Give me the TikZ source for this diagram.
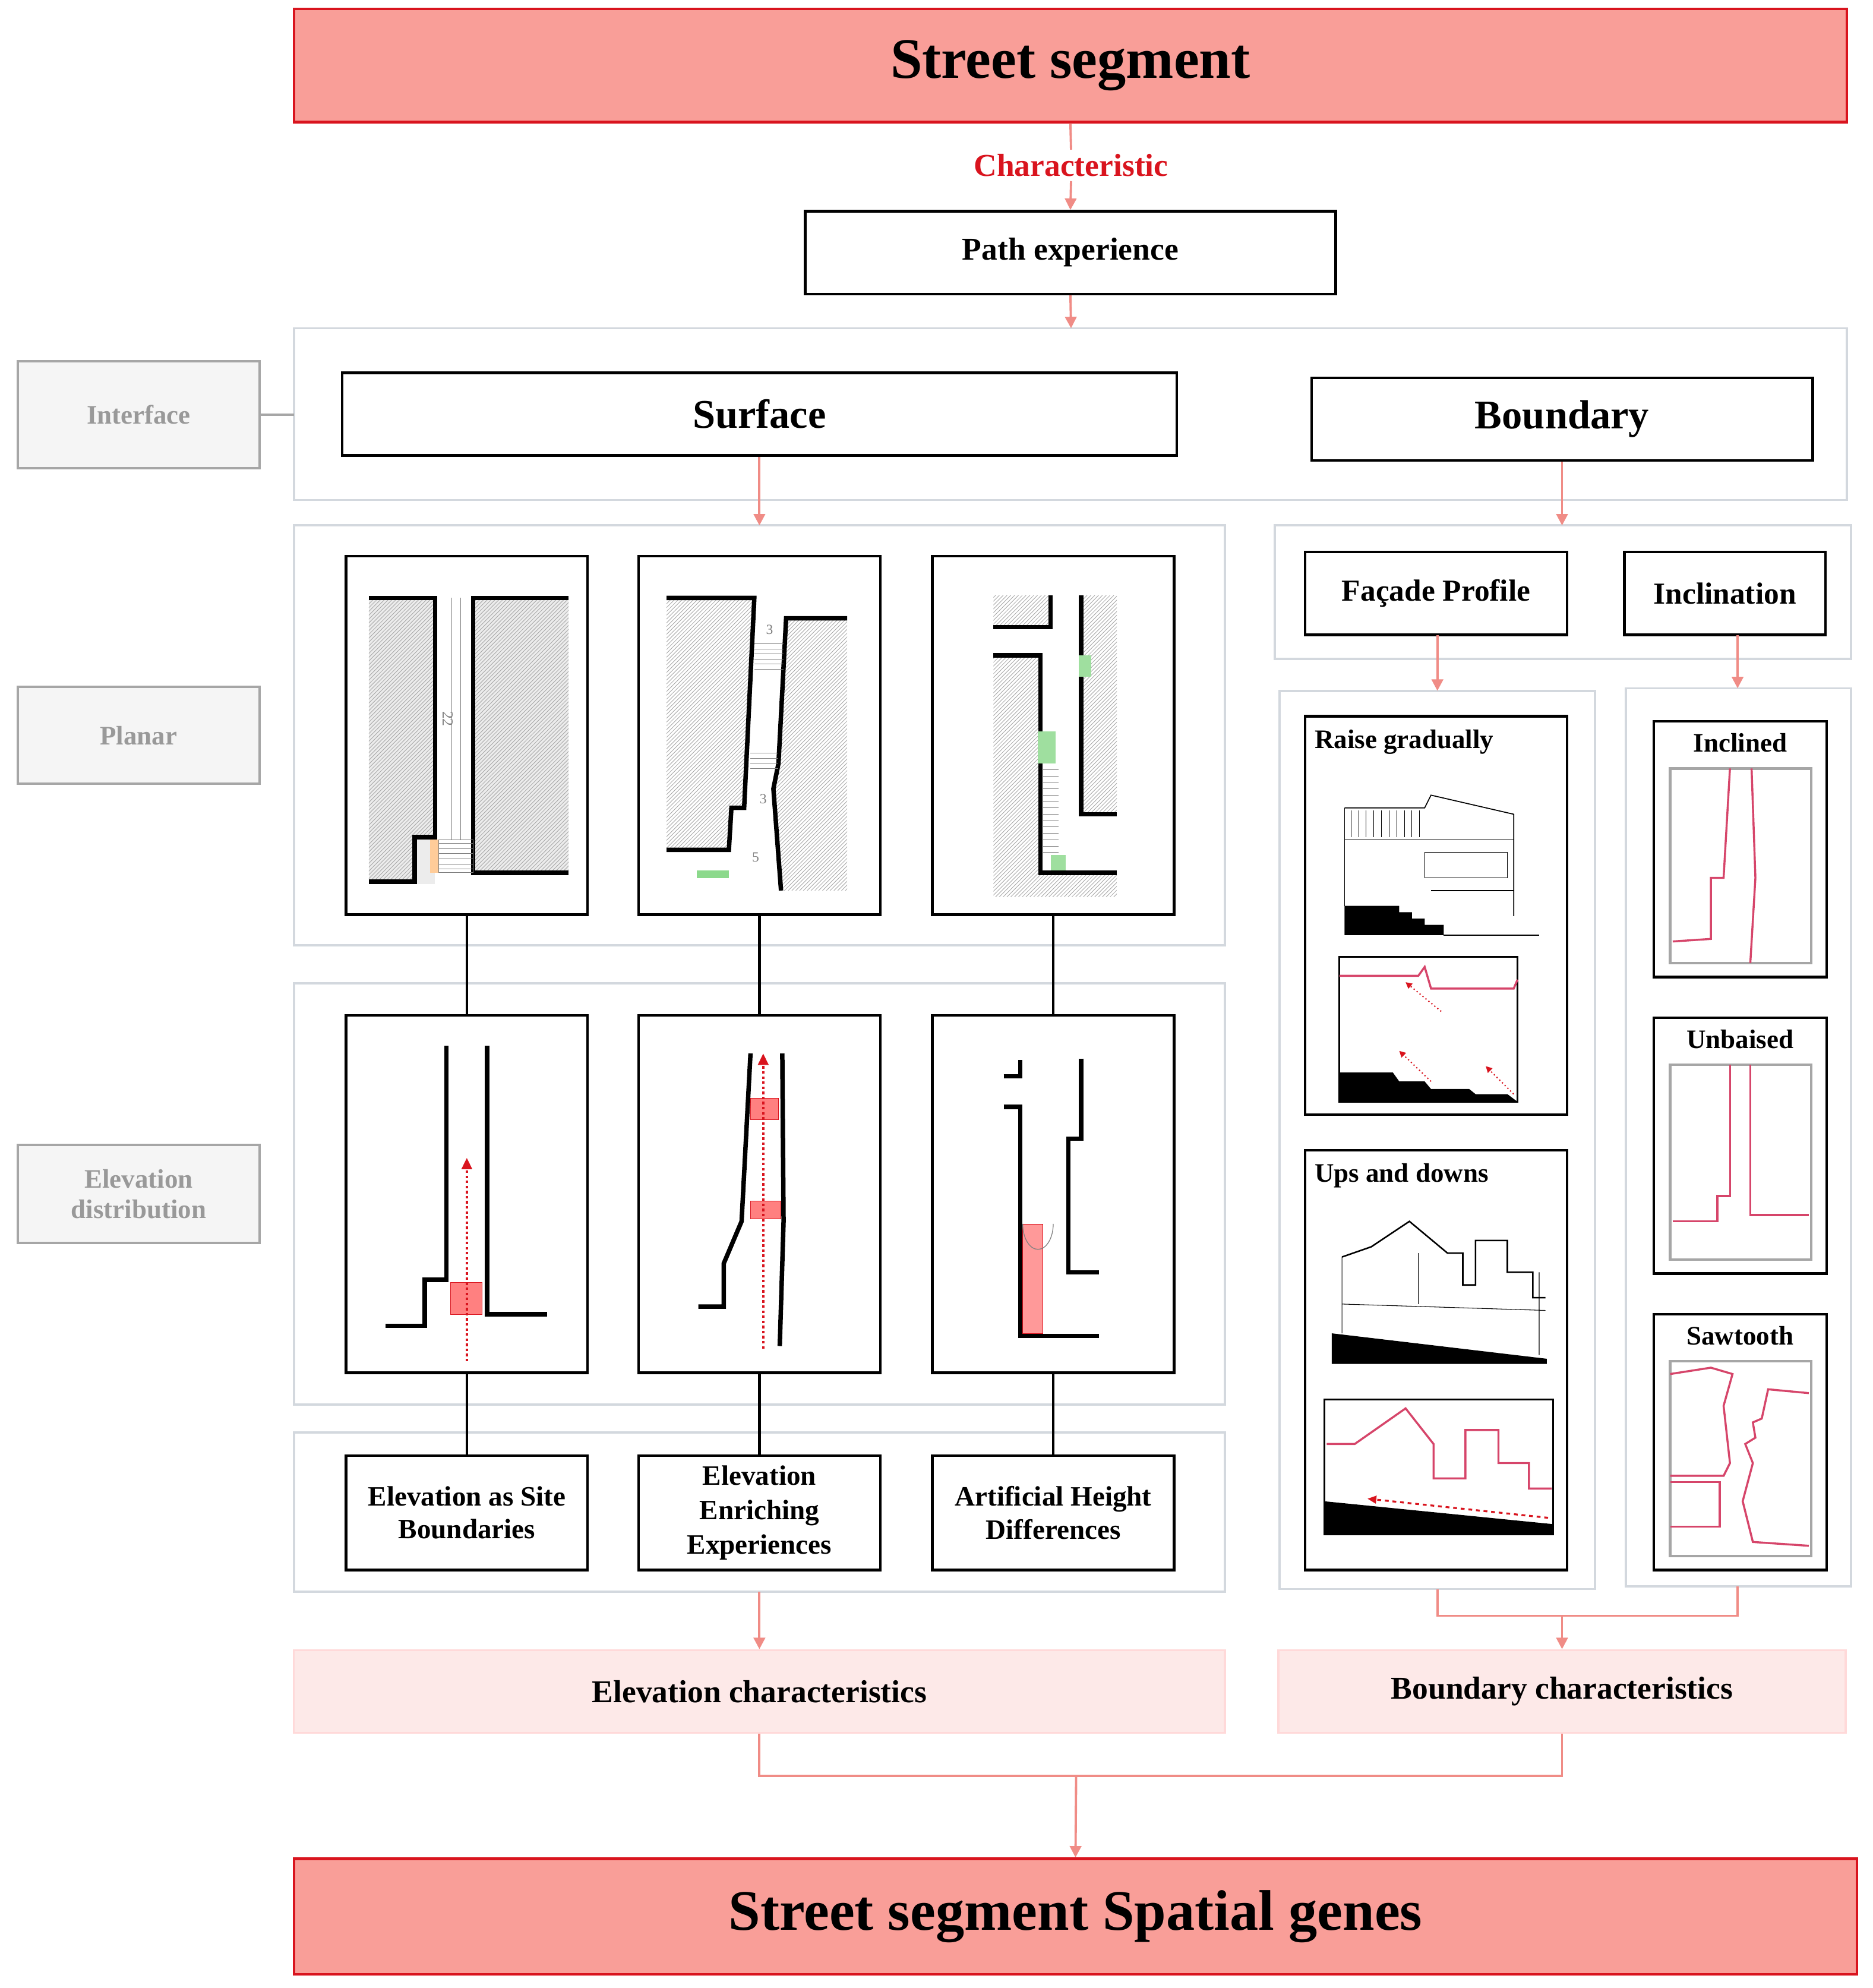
\documentclass[tikz,border=0pt]{standalone}
\usepackage{fontspec}
\setmainfont{Liberation Serif}
\usetikzlibrary{arrows.meta,patterns}
\definecolor{salmon}{HTML}{F99E98}
\definecolor{redb}{HTML}{D9141E}
\definecolor{arr}{HTML}{F08C86}
\definecolor{grp}{HTML}{D3D8DE}
\definecolor{pinkf}{HTML}{FDE9E8}
\definecolor{pinkl}{HTML}{D6456A}
\begin{document}
\begin{tikzpicture}[x=1pt,y=-1pt,
 big/.style={draw=redb,line width=2pt,fill=salmon,font=\bfseries\fontsize{45}{48}\selectfont},
 box/.style={draw=black,line width=2pt,fill=white,font=\bfseries\fontsize{25}{28}\selectfont},
 grpb/.style={draw=grp,line width=1.8pt},
 lab/.style={draw=gray!70,line width=1.8pt,fill=gray!8,text=gray!80,font=\bfseries\fontsize{21}{24}\selectfont,align=center},
 pan/.style={draw=black,line width=2pt,fill=white},
 ar/.style={draw=arr,line width=1.8pt,-{Triangle[length=9pt,width=9pt]}},
 ln/.style={draw=arr,line width=1.8pt},
 wl/.style={line width=3.5pt,line join=miter},
 hat/.style={pattern=north east lines,pattern color=gray!70},
 pk/.style={draw=pinkl,line width=1.6pt},
 pbox/.style={draw=black,line width=2pt,fill=white},
 ibox/.style={draw=gray!70,line width=2pt},
 ch/.style={draw=pink!60,line width=1.5pt,fill=pinkf,font=\bfseries\fontsize{25}{28}\selectfont},
 ptxt/.style={font=\bfseries\fontsize{21}{24}\selectfont},
 ltxt/.style={font=\bfseries\fontsize{22}{26}\selectfont}]
\useasboundingbox (0,0) rectangle (1472,1562.6);
% top
\node[big,minimum width=1221pt,minimum height=89pt] (top) at (841.5,51.5) {Street segment};
\node[text=redb,font=\bfseries\fontsize{25}{28}\selectfont] (char) at (842,130) {Characteristic};
\node[box,minimum width=417pt,minimum height=65pt] (path) at (841.5,198.5) {Path experience};
\draw[ln] (top.south) -- (char.north);
\draw[ar] (char.south) -- (path.north);
% interface group
\draw[grpb] (231,258) rectangle (1452,393);
\coordinate (ifT) at (842,258);
\draw[ar] (path.south) -- (ifT);
\node[box,minimum width=656pt,minimum height=65pt,font=\bfseries\fontsize{32}{36}\selectfont] (surf) at (597,325.5) {Surface};
\node[box,minimum width=394pt,minimum height=65pt,font=\bfseries\fontsize{32}{36}\selectfont] (bound) at (1228,329.5) {Boundary};
\node[lab,minimum width=190pt,minimum height=84pt] (ilab) at (109,326) {Interface};
\node[lab,minimum width=190pt,minimum height=76pt] (plab) at (109,578) {Planar};
\node[lab,minimum width=190pt,minimum height=77pt] (elab) at (109,938.5) {Elevation\\distribution};
\coordinate (ifL) at (231,326);
\draw[draw=gray!70,line width=1.8pt] (ilab.east) -- (ifL);
% groups
\draw[grpb] (231,413) rectangle (963,743);
\draw[grpb] (231,773) rectangle (963,1104);
\draw[grpb] (231,1126) rectangle (963,1251);
\draw[grpb] (1002,413) rectangle (1455,518);
\draw[grpb] (1006,543) rectangle (1254,1249);
\draw[grpb] (1278,541) rectangle (1455,1247);
\coordinate (pgT) at (597,413); \coordinate (fgT) at (1228,413);
\draw[ar] (surf.south) -- (pgT);
\draw[ar] (bound.south) -- (fgT);
% panels
\foreach \n/\x in {a/367,b/597,c/828}{
 \node[pan,minimum width=190pt,minimum height=282pt] (p\n) at (\x,578) {};
 \node[pan,minimum width=190pt,minimum height=281pt] (e\n) at (\x,938.5) {};
 \draw[line width=2pt] (p\n.south) -- (e\n.north);
}
\node[box,minimum width=190pt,minimum height=90pt,align=center,ltxt] (la) at (367,1189) {Elevation as Site\\Boundaries};
\node[box,minimum width=190pt,minimum height=90pt,align=center,ltxt,font=\bfseries\fontsize{22}{27}\selectfont] (lb) at (597,1189) {Elevation\\Enriching\\Experiences};
\node[box,minimum width=190pt,minimum height=90pt,align=center,ltxt] (lc) at (828,1189) {Artificial Height\\Differences};
\draw[line width=2pt] (ea.south) -- (la.north);
\draw[line width=2pt] (eb.south) -- (lb.north);
\draw[line width=2pt] (ec.south) -- (lc.north);
% planar drawings
\fill[gray!15] (290,470) rectangle (342,695); \fill[hat] (290,470) -- (342,470) -- (342,658) -- (326,658) -- (326,693) -- (290,693) -- cycle;
\fill[gray!15] (372,470) rectangle (447,686); \fill[hat] (372,470) rectangle (447,686);
\draw[wl] (290,470) -- (342,470) -- (342,658) -- (326,658) -- (326,693) -- (290,693);
\draw[wl] (447,470) -- (372,470) -- (372,686) -- (447,686);
\draw[gray,line width=0.6pt] (355,470) -- (355,660) (362,470)--(362,660);
\fill[orange!40] (338,660) rectangle (345,686);
\draw[gray,line width=0.5pt] (345,660) rectangle (372,686);
\foreach \y in {663,667,...,684} \draw[gray,line width=0.4pt] (345,\y)--(372,\y);
\node[font=\fontsize{12}{12}\selectfont,rotate=-90,gray] at (352,565) {22};
% panel b
\fill[gray!15,hat] (524,470) -- (593,470) -- (585,635) -- (575,635) -- (573,668) -- (524,668) -- cycle;
\draw[wl] (524,470) -- (593,470) -- (585,635) -- (575,635) -- (573,668) -- (524,668);
\fill[gray!15,hat] (618,486) -- (666,486) -- (666,700) -- (614,700) -- (608,620) -- (612,600) -- cycle;
\draw[wl] (666,486) -- (618,486) -- (612,600) -- (608,620) -- (614,700);
\foreach \y in {506,510,...,526} \draw[gray,line width=0.4pt] (593,\y)--(616,\y);
\foreach \y in {592,596,...,606} \draw[gray,line width=0.4pt] (590,\y)--(612,\y);
\fill[green!50!gray!60] (548,684) rectangle (573,690);
\node[font=\fontsize{11}{11}\selectfont,gray] at (605,495) {3};
\node[font=\fontsize{11}{11}\selectfont,gray] at (600,628) {3};
\node[font=\fontsize{11}{11}\selectfont,gray] at (594,674) {5};
% panel c
\fill[gray!15,hat] (781,468) -- (826,468) -- (826,493) -- (781,493) -- cycle;
\draw[wl] (781,493) -- (826,493) -- (826,468);
\fill[gray!15,hat] (781,515) -- (818,515) -- (818,686) -- (878,686) -- (878,705) -- (781,705) -- cycle;
\draw[wl] (781,515) -- (818,515) -- (818,686) -- (878,686);
\fill[gray!15,hat] (850,468) -- (878,468) -- (878,640) -- (850,640) -- cycle;
\draw[wl] (850,468) -- (850,640) -- (878,640);
\fill[green!50!gray!50] (816,575) rectangle (830,600);
\fill[green!50!gray!50] (848,515) rectangle (858,532);
\fill[green!50!gray!50] (826,672) rectangle (838,684);
\foreach \y in {605,610,...,670} \draw[gray,line width=0.4pt] (820,\y)--(832,\y);
% elevation drawings
\draw[wl] (351,822) -- (351,1006) -- (334,1006) -- (334,1042) -- (303,1042);
\draw[wl] (383,822) -- (383,1033) -- (430,1033);
\fill[red!50,draw=redb] (354,1008) rectangle (379,1033);
\draw[redb,line width=2pt,dotted,-{Triangle[length=9pt,width=8pt]}] (367,1070) -- (367,910);
\draw[wl] (590,828) -- (583,960) -- (569,993) -- (569,1027) -- (549,1027);
\draw[wl] (615,828) -- (616,960) -- (613,1058);
\fill[red!50,draw=redb] (590,863) rectangle (612,880);
\fill[red!50,draw=redb] (590,944) rectangle (614,958);
\draw[redb,line width=2pt,dotted,-{Triangle[length=9pt,width=8pt]}] (600,1060) -- (600,828);
\draw[wl] (789,846) -- (802,846) -- (802,833);
\draw[wl] (789,870) -- (802,870) -- (802,1050) -- (864,1050);
\draw[wl] (850,832) -- (850,895) -- (840,895) -- (840,1000) -- (864,1000);
\fill[red!40,draw=redb] (804,962) rectangle (820,1048);
\draw[gray,line width=0.6pt] (804,962) arc (180:0:12 and 20);
% facade
\node[pbox,minimum width=206pt,minimum height=65pt,font=\bfseries\fontsize{24}{27}\selectfont] (fac) at (1129,466.5) {Façade Profile};
\node[pbox,minimum width=158pt,minimum height=65pt,font=\bfseries\fontsize{24}{27}\selectfont] (inc) at (1356,466.5) {Inclination};
\coordinate (fg2) at (1130,543); \coordinate (ig2) at (1366,541);
\draw[ar] (1130,499) -- (fg2);
\draw[ar] (1366,499) -- (ig2);
\node[pbox,minimum width=206pt,minimum height=313pt] (rg) at (1129,719.5) {};
\node[ptxt,anchor=north west] at (1030,570) {Raise gradually};
\node[pbox,minimum width=206pt,minimum height=330pt] (ud) at (1129,1069) {};
\node[ptxt,anchor=north west] at (1030,911) {Ups and downs};
% raise gradually drawing
\draw[line width=0.8pt] (1057,635) -- (1120,635) -- (1125,625) -- (1190,640) -- (1190,720);
\draw[line width=0.6pt] (1057,660) -- (1190,660) (1120,670) rectangle (1185,690) (1125,700) -- (1190,700) (1057,635) -- (1057,712);
\foreach \x in {1062,1068,...,1116} \draw[line width=0.4pt] (\x,637)--(\x,658);
\fill (1057,712) -- (1100,712) -- (1100,717) -- (1110,717) -- (1110,722) -- (1120,722) -- (1120,727) -- (1135,727) -- (1135,735) -- (1057,735) -- cycle;
\draw[line width=0.6pt] (1135,735) -- (1210,735);
\draw[line width=1.5pt] (1053,752) rectangle (1193,866);
\draw[pk] (1053,767) -- (1115,767) -- (1120,760) -- (1125,777) -- (1190,777) -- (1193,770);
\fill (1053,843) -- (1095,843) -- (1100,850) -- (1120,850) -- (1125,856) -- (1155,856) -- (1160,860) -- (1185,860) -- (1193,866) -- (1053,866) -- cycle;
\draw[redb,line width=1pt,dotted,-{Triangle[length=5pt,width=5pt]}] (1133,795) -- (1105,772);
\draw[redb,line width=1pt,dotted,-{Triangle[length=5pt,width=5pt]}] (1125,850) -- (1100,826);
\draw[redb,line width=1pt,dotted,-{Triangle[length=5pt,width=5pt]}] (1190,860) -- (1168,838);
% ups and downs drawing
\draw[line width=1.2pt] (1055,988) -- (1078,980) -- (1108,960) -- (1138,985) -- (1150,985) -- (1150,1010) -- (1160,1010) -- (1160,975) -- (1185,975) -- (1185,1000) -- (1205,1000) -- (1205,1020) -- (1215,1020);
\draw[line width=0.5pt] (1055,1025) -- (1215,1030) (1115,985) -- (1115,1025) (1055,988) -- (1055,1048) (1210,1000)--(1210,1065);
\fill (1047,1048) -- (1216,1068) -- (1216,1072) -- (1047,1072) -- cycle;
\draw[line width=1.5pt] (1041,1100) rectangle (1221,1206);
\fill (1041,1180) -- (1221,1198) -- (1221,1206) -- (1041,1206) -- cycle;
\draw[pk] (1043,1135) -- (1065,1135) -- (1105,1107) -- (1127,1135) -- (1127,1162) -- (1152,1162) -- (1152,1124) -- (1178,1124) -- (1178,1150) -- (1202,1150) -- (1202,1170) -- (1220,1170);
\draw[redb,line width=1.5pt,dashed,-{Triangle[length=7pt,width=6pt]}] (1217,1193) -- (1075,1178);
% inclination
\foreach \n/\y/\t in {i1/567/Inclined,i2/800/Unbaised,i3/1033/Sawtooth}{
 \draw[pbox] (1300,\y) rectangle (1436,\y+201);
 \node[ptxt,anchor=north] at (1368,\y+6) {\t};
 \draw[ibox] (1313,\y+37) rectangle (1424,\y+190);
}
\draw[pk] (1315,740) -- (1345,738) -- (1345,690) -- (1355,690) -- (1360,604);
\draw[pk] (1377,604) -- (1380,690) -- (1376,757);
\draw[pk] (1315,960) -- (1350,960) -- (1350,940) -- (1360,940) -- (1360,837);
\draw[pk] (1376,837) -- (1376,955) -- (1422,955);
\draw[pk] (1313,1080) -- (1345,1075) -- (1362,1080) -- (1355,1105) -- (1360,1150) -- (1355,1160) -- (1313,1160);
\draw[pk] (1313,1165) -- (1352,1165) -- (1352,1200) -- (1313,1200);
\draw[pk] (1422,1095) -- (1390,1092) -- (1385,1115) -- (1378,1118) -- (1380,1130) -- (1372,1135) -- (1378,1150) -- (1370,1180) -- (1378,1212) -- (1422,1215);
% bottom connections
\node[ch,minimum width=732pt,minimum height=65pt] (ec) at (597,1329.5) {Elevation characteristics};
\node[ch,minimum width=446pt,minimum height=65pt] (bc) at (1228,1329.5) {Boundary characteristics};
\coordinate (g1) at (597,1251);
\draw[ar] (g1) -- (ec.north);
\draw[ln] (1130,1249) -- (1130,1270) -- (1366,1270) -- (1366,1247);
\draw[ar] (1228,1270) -- (bc.north);
\draw[ln] (ec.south) -- (597,1396) -- (1228,1396) -- (bc.south);
\node[big,minimum width=1229pt,minimum height=91pt] (bot) at (845.5,1506.5) {Street segment Spatial genes};
\draw[ar] (846,1396) -- (bot.north);
\end{tikzpicture}
\end{document}
